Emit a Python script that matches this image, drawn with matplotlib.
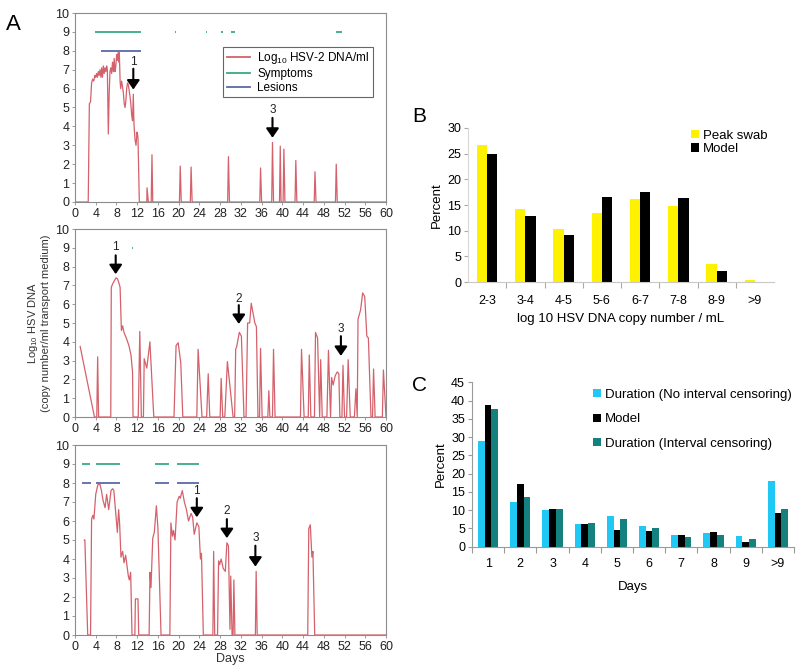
import matplotlib
matplotlib.use("Agg")
import matplotlib.pyplot as plt
import numpy as np
from matplotlib.lines import Line2D

plt.rcParams['font.family'] = ['Liberation Sans', 'DejaVu Sans']
plt.rcParams['mathtext.fontset'] = 'custom'
plt.rcParams['mathtext.rm'] = 'Liberation Sans'
plt.rcParams['mathtext.it'] = 'Liberation Sans'

# ---------------- Panel A data (day, log10 HSV DNA) ----------------
top_trace = [(0, 0), (2.55, 0), (2.77, 5.2), (3.0, 5.3), (3.2, 6.3), (3.4, 6.5), (3.6, 6.4),
             (3.86, 6.7), (4.0, 6.6), (4.18, 6.8), (4.34, 6.6), (4.5, 6.9), (4.66, 6.7),
             (4.82, 7.0), (5.0, 6.6), (5.14, 7.1), (5.3, 6.6), (5.47, 7.2), (5.63, 6.8),
             (5.79, 7.1), (5.95, 6.9), (6.11, 7.2), (6.24, 7.0), (6.43, 3.6), (6.6, 5.8),
             (6.75, 6.9), (6.9, 7.1), (7.07, 6.8), (7.23, 7.4), (7.4, 6.9), (7.56, 7.6),
             (7.72, 6.9), (7.88, 7.2), (8.04, 7.8), (8.17, 7.5), (8.3, 7.9), (8.45, 7.4),
             (8.55, 7.9), (8.7, 6.4), (8.81, 6.0), (9.0, 6.4), (9.16, 6.1), (9.32, 5.8),
             (9.5, 5.2), (9.65, 5.0), (9.8, 5.3), (9.97, 6.0), (10.13, 6.3), (10.29, 6.2),
             (10.45, 5.9), (10.61, 5.6), (10.77, 5.2), (10.93, 4.6), (11.1, 4.3), (11.25, 5.7),
             (11.38, 4.1), (11.58, 3.3), (11.77, 3.0), (11.96, 3.7), (12.05, 3.6), (12.15, 3.4),
             (12.41, 0), (13.85, 0), (13.9, 0.75), (14.15, 0), (14.7, 0), (14.85, 2.5),
             (15.0, 0), (20.15, 0), (20.3, 1.9), (20.5, 0), (22.25, 0), (22.4, 1.85),
             (22.6, 0), (29.45, 0), (29.6, 2.4), (29.8, 0), (35.65, 0), (35.8, 1.8),
             (36.0, 0), (37.95, 0), (38.1, 3.15), (38.3, 0), (39.45, 0), (39.6, 2.95),
             (39.75, 0), (40.15, 0), (40.3, 2.8), (40.5, 0), (42.45, 0), (42.6, 2.2),
             (42.8, 0), (46.15, 0), (46.3, 1.6), (46.5, 0), (50.25, 0), (50.4, 2.0),
             (50.6, 0), (60, 0)]

mid_trace = [(1.0, 3.75), (3.75, 0), (4.2, 0), (4.37, 3.2), (4.55, 0), (6.9, 0), (7.0, 6.9),
             (7.3, 7.1), (7.6, 7.25), (7.9, 7.4), (8.2, 7.35), (8.5, 7.1), (8.7, 6.9),
             (8.95, 4.6), (9.2, 4.85), (9.45, 4.5), (9.9, 4.2), (10.4, 3.8), (10.8, 3.3),
             (11.1, 2.4), (11.2, 0), (12.2, 0), (12.5, 4.55), (12.8, 0), (13.2, 0),
             (13.35, 3.1), (13.85, 2.6), (14.45, 4.0), (15.2, 0), (19.1, 0), (19.5, 3.8),
             (19.9, 3.95), (20.4, 2.9), (20.8, 0), (23.5, 0), (23.75, 3.6), (24.5, 0),
             (25.4, 0), (25.7, 2.3), (26.0, 0), (28.0, 0), (28.2, 2.05), (28.5, 0),
             (28.9, 0), (29.4, 2.95), (30.5, 0), (30.8, 0), (31.0, 3.6), (31.2, 3.75),
             (31.7, 4.5), (32.1, 4.3), (32.6, 0), (33.0, 0), (33.3, 5.0), (33.7, 5.0),
             (34.0, 6.05), (34.3, 5.6), (34.7, 5.0), (35.0, 4.8), (35.3, 0), (35.6, 0),
             (35.8, 3.65), (36.1, 0), (37.2, 0), (37.4, 1.4), (37.6, 0), (38.1, 0),
             (38.3, 3.6), (38.6, 0), (43.5, 0), (43.7, 3.6), (44.2, 0), (45.0, 0),
             (45.2, 3.3), (45.5, 0), (46.2, 0), (46.4, 4.5), (46.8, 4.2), (47.2, 0),
             (47.4, 3.05), (47.7, 0), (48.6, 0), (48.9, 3.55), (49.3, 0), (49.5, 2.1),
             (49.8, 1.7), (50.2, 2.2), (50.6, 2.4), (50.9, 2.3), (51.1, 0), (51.5, 0),
             (51.7, 2.75), (52.0, 0), (52.4, 0), (52.7, 3.05), (53.1, 0), (53.9, 0),
             (54.2, 1.5), (54.45, 0), (54.6, 5.2), (55.1, 5.7), (55.5, 6.6), (55.9, 6.4),
             (56.3, 4.3), (56.6, 4.2), (57.1, 0), (57.4, 0), (57.6, 2.55), (57.9, 0),
             (59.3, 0), (59.5, 2.5), (60, 0)]

bot_trace = [(1.8, 5.0), (1.9, 5.0), (2.45, 0), (3.0, 0), (3.2, 6.1), (3.45, 6.3), (3.65, 6.1),
             (4.0, 7.4), (4.4, 7.9), (4.8, 7.95), (5.1, 7.6), (5.4, 7.1), (5.8, 6.7),
             (6.1, 7.4), (6.5, 6.6), (6.95, 7.6), (7.27, 7.7), (7.5, 7.6), (8.17, 5.4),
             (8.42, 6.6), (8.6, 5.9), (8.87, 4.1), (9.2, 4.4), (9.45, 3.8), (9.77, 4.2),
             (10.29, 3.1), (10.48, 2.9), (10.74, 3.3), (11.0, 0), (11.55, 0), (11.65, 1.9),
             (12.15, 1.9), (12.3, 0), (14.3, 0), (14.47, 3.3), (14.66, 2.5), (15.0, 5.1),
             (15.3, 5.4), (15.7, 6.8), (16.0, 5.6), (16.6, 0), (18.3, 0), (18.5, 5.9),
             (18.8, 5.2), (19.0, 5.5), (19.3, 5.0), (19.7, 7.0), (20.1, 7.3), (20.3, 7.2),
             (20.7, 7.6), (21.1, 7.0), (21.5, 6.6), (21.9, 6.0), (22.4, 6.4), (22.7, 6.2),
             (23.0, 5.3), (23.5, 5.9), (23.9, 5.7), (24.2, 4.0), (24.4, 4.3), (24.76, 0),
             (26.6, 0), (26.75, 4.4), (26.95, 0), (27.5, 0), (27.7, 3.9), (27.9, 3.7),
             (28.2, 4.0), (28.6, 3.5), (29.0, 3.35), (29.3, 4.85), (29.6, 4.7), (29.9, 0.3),
             (30.05, 3.1), (30.3, 0), (30.5, 0), (30.65, 2.9), (30.85, 0), (34.8, 0),
             (34.95, 3.35), (35.15, 0), (44.9, 0), (45.1, 5.6), (45.4, 5.8), (45.7, 4.1),
             (45.9, 4.4), (46.25, 0), (60, 0)]

# symptom (level 9) and lesion (level 8) episodes: (start day, end day)
top_symptoms = [(3.86, 12.8), (19.2, 19.4), (25.3, 25.5), (28.2, 28.6), (30.1, 30.9), (50.3, 51.6)]
top_lesions = [(5.0, 12.8)]
mid_symptoms = [(10.95, 11.15)]
mid_lesions = []
bot_symptoms = [(1.4, 2.8), (4.05, 8.7), (15.45, 18.2), (19.6, 24.0)]
bot_lesions = [(1.4, 3.1), (4.05, 8.7), (15.45, 18.2), (19.6, 24.0)]

# arrows: (label, day, label level, shaft start, tip)
top_arrows = [('1', 11.25, 7.4, 7.05, 5.95), ('3', 38.1, 4.85, 4.45, 3.4)]
mid_arrows = [('1', 7.85, 9.05, 8.6, 7.6), ('2', 31.6, 6.3, 5.95, 4.95), ('3', 51.3, 4.7, 4.3, 3.25)]
bot_arrows = [('1', 23.5, 7.6, 7.2, 6.2), ('2', 29.3, 6.5, 6.1, 5.1), ('3', 34.8, 5.1, 4.7, 3.6)]

# ---------------- Panel B data ----------------
b_categories = ['2-3', '3-4', '4-5', '5-6', '6-7', '7-8', '8-9', '>9']
b_peak_swab = [26.6, 14.2, 10.4, 13.4, 16.1, 14.9, 3.5, 0.4]
b_model = [25.0, 12.9, 9.2, 16.6, 17.6, 16.3, 2.2, 0.05]

# ---------------- Panel C data ----------------
c_categories = ['1', '2', '3', '4', '5', '6', '7', '8', '9', '>9']
c_no_censor = [28.8, 12.1, 10.1, 6.3, 8.3, 5.8, 3.2, 3.8, 2.9, 17.9]
c_model = [38.9, 17.1, 10.3, 6.3, 4.7, 4.3, 3.2, 4.1, 1.3, 9.3]
c_censor = [37.6, 13.6, 10.3, 6.6, 7.7, 5.1, 2.7, 3.2, 2.1, 10.4]

RED = '#d4616b'
GREEN = '#3aa882'
BLUE = '#5a6aaa'
SPINE = '#8c8c8c'

fig = plt.figure(figsize=(8, 6.67), dpi=100)

def panel_a(rect, trace, symptoms, lesions, arrows):
    ax = fig.add_axes(rect)
    d = [p[0] for p in trace]
    v = [p[1] for p in trace]
    ax.plot(d, v, color=RED, lw=0.9)
    for s, e in symptoms:
        ax.plot([s, e], [9, 9], color=GREEN, lw=1.3, solid_capstyle='butt')
    for s, e in lesions:
        ax.plot([s, e], [8, 8], color=BLUE, lw=1.3, solid_capstyle='butt')
    for lab, day, ly, y0, y1 in arrows:
        ax.annotate('', xy=(day, y1), xytext=(day, y0),
                    arrowprops=dict(arrowstyle='-|>,head_length=0.55,head_width=0.38',
                                    color='black', lw=1.5, mutation_scale=10,
                                    shrinkA=0, shrinkB=0))
        ax.text(day, ly, lab, ha='center', va='center', fontsize=8.5, color='#222222')
    ax.set_xlim(0, 60)
    ax.set_ylim(0, 10)
    ax.set_xticks(np.arange(0, 61, 4))
    ax.set_yticks(np.arange(0, 11, 1))
    for sp in ax.spines.values():
        sp.set_color(SPINE)
        sp.set_linewidth(0.8)
    ax.tick_params(labelsize=9, length=2.5, width=0.6, color=SPINE, pad=1.5, labelcolor='#222222')
    return ax

axA1 = panel_a([75/800, 1-202/667, 311/800, 189/667], top_trace, top_symptoms, top_lesions, top_arrows)
axA2 = panel_a([75/800, 1-417/667, 311/800, 188/667], mid_trace, mid_symptoms, mid_lesions, mid_arrows)
axA3 = panel_a([75/800, 1-635/667, 311/800, 190/667], bot_trace, bot_symptoms, bot_lesions, bot_arrows)

handles = [Line2D([], [], color=RED, lw=1.3), Line2D([], [], color=GREEN, lw=1.3),
           Line2D([], [], color=BLUE, lw=1.3)]
leg = axA1.legend(handles, [r'Log$_{10}$ HSV-2 DNA/ml', 'Symptoms', 'Lesions'],
                  loc='upper right', bbox_to_anchor=(0.958, 0.822), fontsize=8.5,
                  fancybox=False, edgecolor='#666666', framealpha=1, handlelength=2.0,
                  labelspacing=0.15, borderpad=0.3, handletextpad=0.6, borderaxespad=0)
leg.get_frame().set_linewidth(0.8)

axA2.set_ylabel('Log$_{10}$ HSV DNA\n(copy number/ml transport medium)', fontsize=8,
                color='#333333', labelpad=3, linespacing=1.1)
axA3.set_xlabel('Days', fontsize=9, color='#333333', labelpad=0)

fig.text(13.5/800, 1-25/667, 'A', fontsize=16, ha='center', va='center')
fig.text(419/800, 1-116/667, 'B', fontsize=15, ha='center', va='center')
fig.text(419/800, 1-385/667, 'C', fontsize=15, ha='center', va='center')

# ---------------- Panel B ----------------
axB = fig.add_axes([468/800, 1-282/667, 306/800, 154/667])
xb = np.arange(len(b_categories))
axB.bar(xb - 0.135, b_peak_swab, width=0.27, color='#fff200', label='Peak swab')
axB.bar(xb + 0.135, b_model, width=0.27, color='black', label='Model')
axB.set_xlim(-0.5, len(b_categories) - 0.5)
axB.set_ylim(0, 30)
axB.set_yticks(np.arange(0, 31, 5))
axB.set_xticks(xb)
axB.set_xticklabels(b_categories)
axB.set_xticks(np.arange(0.5, len(b_categories) - 0.5, 1), minor=True)
for k in ['top', 'right']:
    axB.spines[k].set_visible(False)
axB.spines['left'].set_color('#d8d8d8')
axB.spines['bottom'].set_color('#c8c8c8')
axB.tick_params(axis='x', which='major', length=0, labelsize=9, pad=9)
axB.tick_params(axis='x', which='minor', length=4, color='#aaaaaa', width=0.8)
axB.tick_params(axis='y', length=3, color='#aaaaaa', labelsize=9, pad=2)
axB.set_ylabel('Percent', fontsize=9.5, labelpad=3)
axB.set_xlabel('log 10 HSV DNA copy number / mL', fontsize=9.5, labelpad=5)
lb = axB.legend(loc='upper left', bbox_to_anchor=(0.728, 0.99), frameon=False, fontsize=9.5,
                handlelength=0.6, handleheight=0.6, handletextpad=0.3, labelspacing=0.12,
                borderaxespad=0, borderpad=0)

# ---------------- Panel C ----------------
axC = fig.add_axes([472/800, 1-546.7/667, 322/800, 164.4/667])
xc = np.arange(len(c_categories))
w = 0.21
axC.bar(xc - w, c_no_censor, width=w, color='#1fc8f5', label='Duration (No interval censoring)')
axC.bar(xc, c_model, width=w, color='black', label='Model')
axC.bar(xc + w, c_censor, width=w, color='#14817f', label='Duration (Interval censoring)')
axC.set_xlim(-0.5, len(c_categories) - 0.5)
axC.set_ylim(0, 45)
axC.set_yticks(np.arange(0, 46, 5))
axC.set_xticks(xc)
axC.set_xticklabels(c_categories)
axC.set_xticks(np.arange(-0.5, len(c_categories), 1), minor=True)
for k in ['top', 'right']:
    axC.spines[k].set_visible(False)
axC.spines['left'].set_color('#9a9a9a')
axC.spines['bottom'].set_color('#9a9a9a')
axC.tick_params(axis='x', which='major', length=0, labelsize=9, pad=8)
axC.tick_params(axis='x', which='minor', length=4, color='#9a9a9a', width=0.8)
axC.tick_params(axis='y', length=3, color='#9a9a9a', labelsize=9, pad=2)
axC.set_ylabel('Percent', fontsize=9.5, labelpad=3)
axC.set_xlabel('Days', fontsize=9.5, labelpad=8)
lc = axC.legend(loc='upper left', bbox_to_anchor=(0.375, 0.96), frameon=False, fontsize=9.5,
                handlelength=0.6, handleheight=0.6, handletextpad=0.3, labelspacing=0.95,
                borderaxespad=0, borderpad=0)

fig.savefig('out.png', dpi=100)
